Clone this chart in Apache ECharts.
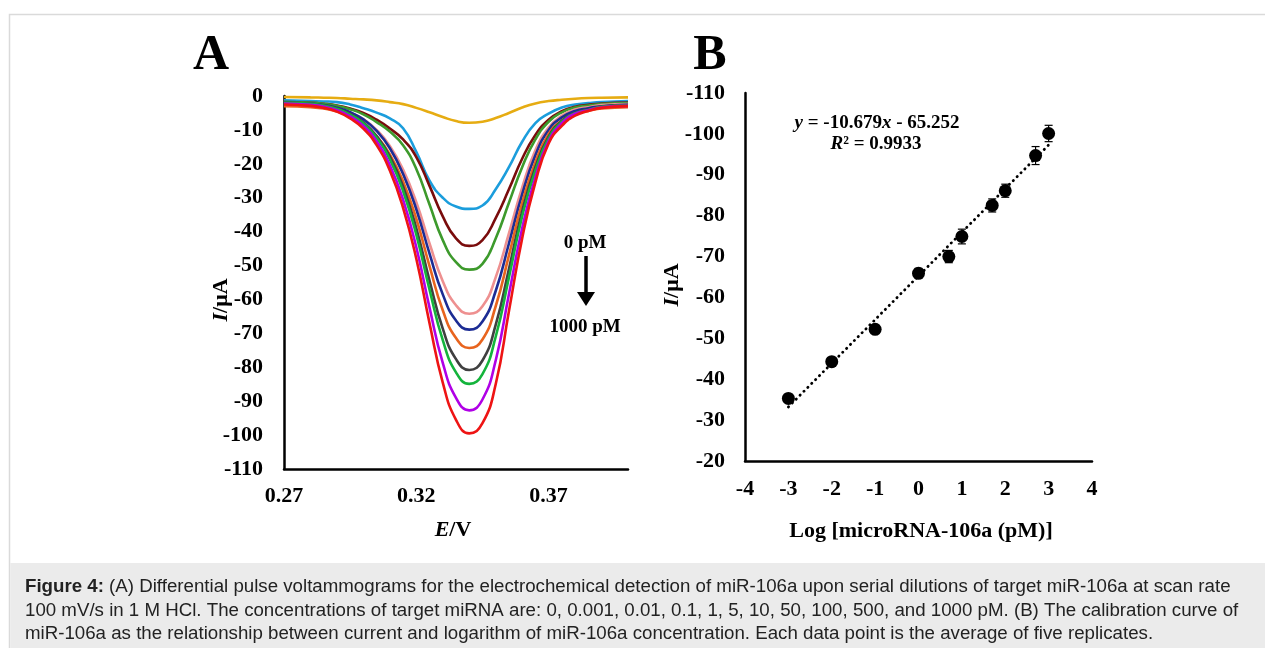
<!DOCTYPE html>
<html>
<head>
<meta charset="utf-8">
<script src="https://cdn.jsdelivr.net/npm/echarts@6/dist/echarts.min.js"></script>
<style>
html,body{margin:0;padding:0;background:#fff;}
#chart{width:1265px;height:648px;}
</style>
</head>
<body>
<div id="chart"></div>
<script>
// ---------- Panel A: DPV curves (E in V, I in µA) ----------
const E_V = [0.27, 0.28, 0.285, 0.29, 0.295, 0.30, 0.305, 0.31, 0.315, 0.32, 0.325, 0.33, 0.335, 0.34, 0.345, 0.35, 0.355, 0.36, 0.365, 0.37, 0.375, 0.38, 0.385, 0.39, 0.40];
const concLabels = ['0 pM', '0.001 pM', '0.01 pM', '0.1 pM', '1 pM', '5 pM', '10 pM', '50 pM', '100 pM', '500 pM', '1000 pM'];
const I_0pM    = [-0.3, -0.4, -0.5, -0.6, -0.8, -1.0, -1.3, -1.8, -2.4, -3.5, -4.8, -6.2, -7.4, -7.9, -7.6, -6.5, -5.0, -3.4, -2.2, -1.5, -1.1, -0.8, -0.6, -0.5, -0.4];
const I_0001pM = [-1.3, -1.5, -1.6, -1.8, -2.5, -3.6, -4.9, -6.6, -9.5, -16.5, -25.0, -30.0, -32.6, -33.3, -32.3, -27.5, -21.0, -13.5, -8.0, -5.2, -3.4, -2.5, -2.1, -1.8, -1.5];
const I_001pM  = [-1.8, -2.0, -2.3, -2.8, -3.7, -5.0, -7.0, -9.6, -12.8, -18.0, -26.5, -35.5, -42.0, -44.2, -42.5, -36.0, -27.5, -18.5, -11.5, -7.0, -4.5, -3.2, -2.6, -2.2, -1.9];
const I_01pM   = [-1.8, -2.0, -2.3, -2.9, -3.9, -5.4, -7.7, -10.5, -14.5, -21.5, -32.0, -42.5, -49.0, -51.2, -49.5, -42.0, -31.5, -21.0, -12.8, -7.6, -4.8, -3.4, -2.8, -2.4, -2.1];
const I_1pM    = [-2.3, -2.5, -2.9, -3.6, -4.9, -6.8, -10.0, -14.7, -21.7, -31.3, -43.5, -54.6, -61.7, -64.2, -62.0, -53.5, -40.5, -27.0, -16.0, -9.3, -5.8, -4.0, -3.3, -2.7, -2.4];
const I_5pM    = [-2.0, -2.3, -2.7, -3.5, -4.8, -6.9, -10.3, -15.4, -23.0, -33.4, -46.5, -58.5, -66.2, -68.9, -66.5, -57.5, -43.5, -29.0, -17.5, -10.0, -6.3, -4.4, -3.6, -3.0, -2.6];
const I_10pM   = [-3.0, -3.3, -3.7, -4.6, -6.0, -8.2, -11.8, -17.2, -25.2, -36.2, -50.2, -63.2, -71.4, -74.3, -71.8, -62.0, -47.0, -31.5, -19.5, -11.2, -7.2, -5.2, -4.4, -3.7, -3.3];
const I_50pM   = [-2.0, -2.3, -2.8, -3.7, -5.3, -7.8, -11.8, -17.8, -26.7, -39.0, -54.4, -68.6, -77.6, -80.8, -78.0, -67.5, -51.0, -34.0, -21.0, -12.0, -7.3, -5.0, -4.0, -3.1, -2.7];
const I_100pM  = [-2.0, -2.3, -2.8, -3.8, -5.5, -8.0, -12.3, -18.7, -28.0, -40.9, -57.1, -72.0, -81.5, -84.9, -82.0, -71.0, -53.5, -35.5, -22.0, -12.5, -7.6, -5.1, -4.1, -3.2, -2.8];
const I_500pM  = [-2.2, -2.6, -3.1, -4.2, -6.0, -8.8, -13.4, -20.4, -30.6, -44.6, -62.4, -78.7, -89.0, -92.7, -89.5, -78.0, -58.5, -39.0, -24.0, -13.3, -8.0, -5.2, -4.2, -3.3, -2.9];
const I_1000pM = [-2.5, -2.9, -3.5, -4.6, -6.6, -9.6, -14.5, -22.0, -33.0, -48.0, -67.0, -84.5, -95.5, -99.5, -96.5, -85.0, -63.5, -42.0, -25.5, -14.0, -8.8, -5.8, -4.4, -3.5, -3.0];
const curveColors = ['#E6AC12', '#1B9DDC', '#7A0C0C', '#3D9A2C', '#EE9090', '#1C2C94', '#E8641E', '#404040', '#14B43C', '#B000E6', '#EE1414'];
const xTicksA = [0.27, 0.32, 0.37];

// ---------- Panel B: calibration ----------
const logConc = [-3, -2, -1, 0, 0.699, 1, 1.699, 2, 2.699, 3];
const currentB = [-35.3, -44.3, -52.2, -65.9, -70.0, -74.9, -82.5, -86.1, -94.7, -100.1];
const errB = [1.0, 1.0, 1.0, 1.2, 1.5, 1.8, 1.6, 1.6, 2.2, 2.0];
const trendX = [-3, 3];
const trendY = [-33.215, -97.289];

const SERIF = '"Liberation Serif", "Times New Roman", serif';
const SANS = '"Liberation Sans", Arial, sans-serif';

const curves = [I_0pM, I_0001pM, I_001pM, I_01pM, I_1pM, I_5pM, I_10pM, I_50pM, I_100pM, I_500pM, I_1000pM];

const labelStyle = { color: '#000', fontFamily: SERIF, fontWeight: 'bold', fontSize: 22 };
const axisLineStyle = { show: true, onZero: false, lineStyle: { color: '#000', width: 2.5 } };

const seriesA = curves.map((arr, k) => ({
  name: concLabels[k],
  type: 'line',
  xAxisIndex: 0, yAxisIndex: 0,
  data: E_V.map((e, i) => [e, arr[i]]),
  smooth: 0.5,
  showSymbol: false,
  symbol: 'none',
  lineStyle: { color: curveColors[k], width: 2.6 },
  z: 2 + k
}));

const chart = echarts.init(document.getElementById('chart'), null, { renderer: 'canvas' });

const option = {
  animation: false,
  backgroundColor: '#fff',
  grid: [
    { left: 284, top: 96, width: 344, height: 373, outerBoundsMode: 'none', containLabel: false },
    { left: 745, top: 93, width: 347, height: 368, outerBoundsMode: 'none', containLabel: false }
  ],
  xAxis: [
    {
      gridIndex: 0, type: 'value', min: 0.27, max: 0.40,
      axisLine: axisLineStyle,
      axisTick: { show: false },
      splitLine: { show: false },
      axisLabel: Object.assign({ margin: 16, customValues: xTicksA, formatter: v => v.toFixed(2) }, labelStyle)
    },
    {
      gridIndex: 1, type: 'value', min: -4, max: 4, interval: 1,
      axisLine: axisLineStyle,
      axisTick: { show: false },
      splitLine: { show: false },
      axisLabel: Object.assign({ margin: 17, showMinLabel: true, showMaxLabel: true }, labelStyle)
    }
  ],
  yAxis: [
    {
      gridIndex: 0, type: 'value', min: -110, max: 0, interval: 10,
      axisLine: axisLineStyle,
      axisTick: { show: false },
      splitLine: { show: false },
      axisLabel: Object.assign({ margin: 21, showMinLabel: true, showMaxLabel: true }, labelStyle)
    },
    {
      gridIndex: 1, type: 'value', min: -110, max: -20, interval: 10, inverse: true,
      axisLine: axisLineStyle,
      axisTick: { show: false },
      splitLine: { show: false },
      axisLabel: Object.assign({ margin: 20, showMinLabel: true, showMaxLabel: true }, labelStyle)
    }
  ],
  series: seriesA.concat([
    {
      name: 'trend',
      type: 'line',
      xAxisIndex: 1, yAxisIndex: 1,
      data: trendX.map((x, i) => [x, trendY[i]]),
      showSymbol: false, symbol: 'none',
      lineStyle: { color: '#000', width: 2.8, type: [0.3, 5.2], cap: 'round' },
      z: 2
    },
    {
      name: 'error',
      type: 'custom',
      xAxisIndex: 1, yAxisIndex: 1,
      data: logConc.map((x, i) => [x, currentB[i] - errB[i], currentB[i] + errB[i]]),
      renderItem: function (params, api) {
        const lo = api.coord([api.value(0), api.value(1)]);
        const hi = api.coord([api.value(0), api.value(2)]);
        const hw = 4;
        const st = { stroke: '#000', lineWidth: 1.2 };
        return {
          type: 'group',
          children: [
            { type: 'line', shape: { x1: lo[0], y1: lo[1], x2: hi[0], y2: hi[1] }, style: st },
            { type: 'line', shape: { x1: lo[0] - hw, y1: lo[1], x2: lo[0] + hw, y2: lo[1] }, style: st },
            { type: 'line', shape: { x1: hi[0] - hw, y1: hi[1], x2: hi[0] + hw, y2: hi[1] }, style: st }
          ]
        };
      },
      z: 3
    },
    {
      name: 'mean',
      type: 'scatter',
      xAxisIndex: 1, yAxisIndex: 1,
      data: logConc.map((x, i) => [x, currentB[i]]),
      symbol: 'circle',
      symbolSize: 13,
      itemStyle: { color: '#000', opacity: 1 },
      z: 4
    }
  ]),
  graphic: [
    // frame and caption background
    { type: 'rect', shape: { x: 9.5, y: 14.5, width: 1270, height: 640 }, style: { fill: '#fff', stroke: '#dadada', lineWidth: 1.5 }, z: -10, silent: true },
    { type: 'rect', shape: { x: 10.25, y: 563, width: 1270, height: 90 }, style: { fill: '#ebebeb' }, z: -9, silent: true },
    // panel letters
    { type: 'text', x: 211, y: 56, style: { text: 'A', font: 'bold 50px ' + SERIF, fill: '#000', align: 'center', verticalAlign: 'middle' } },
    { type: 'text', x: 710, y: 56, style: { text: 'B', font: 'bold 50px ' + SERIF, fill: '#000', align: 'center', verticalAlign: 'middle' } },
    // axis titles A
    { type: 'text', x: 221, y: 300, rotation: Math.PI / 2,
      style: { text: '{i|I}{n|/μA}', align: 'center', verticalAlign: 'middle', fill: '#000',
        rich: { i: { fontFamily: SERIF, fontSize: 22, fontWeight: 'bold', fontStyle: 'italic', fill: '#000' },
                n: { fontFamily: SERIF, fontSize: 22, fontWeight: 'bold', fill: '#000' } } } },
    { type: 'text', x: 453, y: 530,
      style: { text: '{i|E}{n|/V}', align: 'center', verticalAlign: 'middle', fill: '#000',
        rich: { i: { fontFamily: SERIF, fontSize: 22, fontWeight: 'bold', fontStyle: 'italic', fill: '#000' },
                n: { fontFamily: SERIF, fontSize: 22, fontWeight: 'bold', fill: '#000' } } } },
    // concentration annotation A
    { type: 'text', x: 585, y: 243, style: { text: '0 pM', font: 'bold 19px ' + SERIF, fill: '#000', align: 'center', verticalAlign: 'middle' } },
    { type: 'line', shape: { x1: 586, y1: 256, x2: 586, y2: 294 }, style: { stroke: '#000', lineWidth: 3.5 } },
    { type: 'polygon', shape: { points: [[577, 292], [595, 292], [586, 306]] }, style: { fill: '#000' } },
    { type: 'text', x: 585, y: 327, style: { text: '1000 pM', font: 'bold 19px ' + SERIF, fill: '#000', align: 'center', verticalAlign: 'middle' } },
    // axis titles B
    { type: 'text', x: 672, y: 285, rotation: Math.PI / 2,
      style: { text: '{i|I}{n|/μA}', align: 'center', verticalAlign: 'middle', fill: '#000',
        rich: { i: { fontFamily: SERIF, fontSize: 22, fontWeight: 'bold', fontStyle: 'italic', fill: '#000' },
                n: { fontFamily: SERIF, fontSize: 22, fontWeight: 'bold', fill: '#000' } } } },
    { type: 'text', x: 921, y: 531, style: { text: 'Log [microRNA-106a (pM)]', font: 'bold 22px ' + SERIF, fill: '#000', align: 'center', verticalAlign: 'middle' } },
    // equation
    { type: 'text', x: 877, y: 123,
      style: { text: '{i|y}{n| = -10.679}{i|x}{n| - 65.252}', align: 'center', verticalAlign: 'middle', fill: '#000',
        rich: { i: { fontFamily: SERIF, fontSize: 19, fontWeight: 'bold', fontStyle: 'italic', fill: '#000' },
                n: { fontFamily: SERIF, fontSize: 19, fontWeight: 'bold', fill: '#000' } } } },
    { type: 'text', x: 876, y: 144,
      style: { text: '{i|R}{n|² = 0.9933}', align: 'center', verticalAlign: 'middle', fill: '#000',
        rich: { i: { fontFamily: SERIF, fontSize: 19, fontWeight: 'bold', fontStyle: 'italic', fill: '#000' },
                n: { fontFamily: SERIF, fontSize: 19, fontWeight: 'bold', fill: '#000' } } } },
    // caption
    { type: 'text', x: 25, y: 587,
      style: { text: '{b|Figure 4:}{n| (A) Differential pulse voltammograms for the electrochemical detection of miR-106a upon serial dilutions of target miR-106a at scan rate}',
        align: 'left', verticalAlign: 'middle', fill: '#222',
        rich: { b: { fontFamily: SANS, fontSize: 18.7, fontWeight: 'bold', fill: '#222' },
                n: { fontFamily: SANS, fontSize: 18.7, fill: '#222' } } } },
    { type: 'text', x: 25, y: 611,
      style: { text: '100 mV/s in 1 M HCl. The concentrations of target miRNA are: 0, 0.001, 0.01, 0.1, 1, 5, 10, 50, 100, 500, and 1000 pM. (B) The calibration curve of',
        font: '18.7px ' + SANS, fill: '#222', align: 'left', verticalAlign: 'middle' } },
    { type: 'text', x: 25, y: 634,
      style: { text: 'miR-106a as the relationship between current and logarithm of miR-106a concentration. Each data point is the average of five replicates.',
        font: '18.7px ' + SANS, fill: '#222', align: 'left', verticalAlign: 'middle' } }
  ]
};

chart.setOption(option);
</script>
</body>
</html>
